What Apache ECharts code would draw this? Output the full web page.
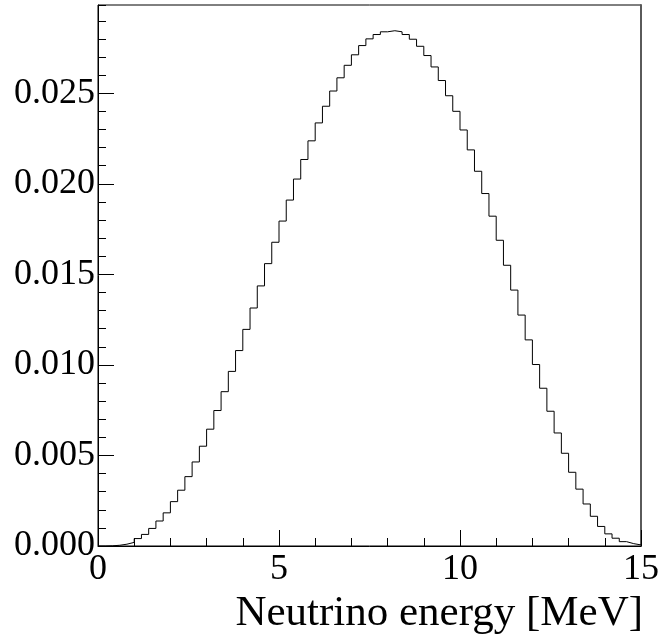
<!DOCTYPE html>
<html>
<head>
<meta charset="utf-8">
<script src="https://cdn.jsdelivr.net/npm/echarts@6/dist/echarts.min.js"></script>
<style>
html,body{margin:0;padding:0;background:#fff;}
#chart{width:662px;height:635px;}
</style>
</head>
<body>
<div id="chart"></div>
<script>
// Bin edges: 0 to 15 MeV in 75 bins of 0.2 MeV
const binStart = 0;
const binWidth = 0.2;
const binValues = [
  0.00000, 0.00001, 0.00004, 0.00010, 0.00020, 0.00041, 0.00064, 0.00097, 0.00138, 0.00183,
  0.00245, 0.00308, 0.00383, 0.00464, 0.00551, 0.00645, 0.00748, 0.00852, 0.00964, 0.01079,
  0.01196, 0.01314, 0.01436, 0.01559, 0.01677, 0.01794, 0.01910, 0.02026, 0.02134, 0.02237,
  0.02336, 0.02428, 0.02512, 0.02585, 0.02654, 0.02712, 0.02763, 0.02800, 0.02824, 0.02839,
  0.02845, 0.02839, 0.02824, 0.02798, 0.02759, 0.02708, 0.02645, 0.02570, 0.02486, 0.02400,
  0.02297, 0.02187, 0.02069, 0.01946, 0.01821, 0.01688, 0.01550, 0.01413, 0.01275, 0.01138,
  0.01002, 0.00871, 0.00744, 0.00624, 0.00512, 0.00407, 0.00314, 0.00232, 0.00164, 0.00108,
  0.00067, 0.00043, 0.00024, 0.00013, 0.00006
];
const xMin = 0, xMax = 15;
const yMin = 0, yMax = 0.02987;
const xTitle = 'Neutrino energy [MeV]';

const stepData = binValues.map((v, i) => [binStart + i * binWidth, v]);
stepData.push([binStart + binValues.length * binWidth, binValues[binValues.length - 1]]);

const labelFont = 'Liberation Serif';
const chart = echarts.init(document.getElementById('chart'), null, {renderer: 'canvas'});
chart.setOption({
  animation: false,
  backgroundColor: '#ffffff',
  grid: {left: 98, right: 19, top: 5, bottom: 89, show: true, borderColor: '#000', borderWidth: 1, backgroundColor: 'transparent'},
  xAxis: [
    {
      type: 'value', position: 'bottom', offset: 0, min: xMin, max: xMax, interval: 1,
      axisLine: {show: true, onZero: false, lineStyle: {color: '#000', width: 1}},
      axisTick: {show: true, inside: true, length: 8, lineStyle: {color: '#000'}},
      axisLabel: {show: false},
      splitLine: {show: false}
    },
    {
      type: 'value', position: 'bottom', offset: 0, min: xMin, max: xMax, interval: 5,
      axisLine: {show: false, onZero: false},
      axisTick: {show: true, inside: true, length: 16, lineStyle: {color: '#000'}},
      axisLabel: {show: true, margin: 6, color: '#000', fontFamily: labelFont, fontSize: 36,
        formatter: v => String(Math.round(v))},
      splitLine: {show: false},
      name: xTitle, nameLocation: 'end', nameGap: 2,
      nameTextStyle: {color: '#000', fontFamily: labelFont, fontSize: 43, align: 'right', verticalAlign: 'top', padding: [46, 0, 0, 0]}
    }
  ],
  yAxis: [
    {
      type: 'value', position: 'left', offset: 0, min: yMin, max: yMax, interval: 0.001,
      axisLine: {show: true, onZero: false, lineStyle: {color: '#000', width: 1}},
      axisTick: {show: true, inside: true, length: 8, lineStyle: {color: '#000'}},
      axisLabel: {show: false},
      splitLine: {show: false}
    },
    {
      type: 'value', position: 'left', offset: 0, min: yMin, max: yMax, interval: 0.005,
      axisLine: {show: false, onZero: false},
      axisTick: {show: true, inside: true, length: 16, lineStyle: {color: '#000'}},
      axisLabel: {show: true, showMaxLabel: false, margin: 3, color: '#000', fontFamily: labelFont, fontSize: 36,
        formatter: v => (Math.abs(v / 0.005 - Math.round(v / 0.005)) < 1e-6 ? v.toFixed(3) : '')},
      splitLine: {show: false}
    },
    {
      type: 'value', position: 'right', offset: 0, min: yMin, max: yMax,
      axisLine: {show: true, onZero: false, lineStyle: {color: '#5a5a5a', width: 2}},
      axisTick: {show: false},
      axisLabel: {show: false},
      splitLine: {show: false}
    }
  ],
  series: [{
    type: 'line', xAxisIndex: 0, yAxisIndex: 0, step: 'end', symbol: 'none',
    data: stepData,
    lineStyle: {color: '#000', width: 1},
    clip: true
  }]
});
</script>
</body>
</html>
